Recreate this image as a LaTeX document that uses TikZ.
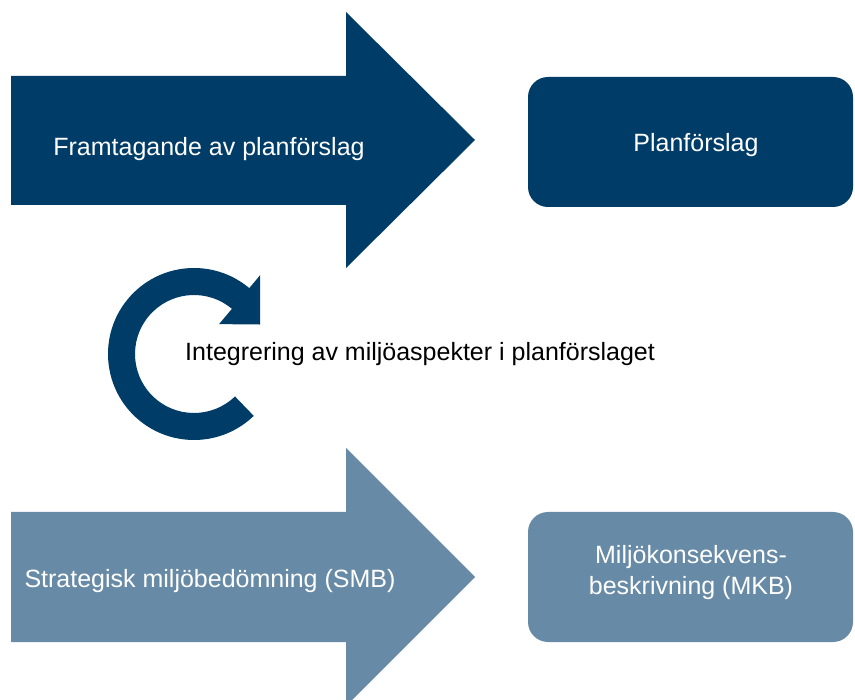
\documentclass[tikz,border=0pt]{standalone}
\usepackage{fontspec}
\setmainfont{Liberation Sans}
\definecolor{darkblue}{RGB}{0,60,104}
\definecolor{lightblue}{RGB}{103,138,166}
\begin{document}
\begin{tikzpicture}[x=1pt,y=-1pt,
  lbl/.style={font=\fontsize{25}{32}\selectfont, inner sep=0pt, anchor=base},
  wlbl/.style={lbl, text=white},
  rbox/.style={rounded corners=20pt}]
\useasboundingbox (0,0) rectangle (855,700);
\begin{scope}
\clip (0,0) rectangle (855,700);
% top arrow
\fill[darkblue] (11,76) -- (346,76) -- (346,12) -- (475,140) -- (346,268) -- (346,205) -- (11,205) -- cycle;
% bottom arrow
\fill[lightblue] (11,512) -- (346,512) -- (346,448) -- (475,577) -- (346,706) -- (346,642) -- (11,642) -- cycle;
\end{scope}
% boxes
\fill[darkblue, rbox] (528,77) rectangle (853,207);
\fill[lightblue, rbox] (528,512) rectangle (853,642);
% circular arrow
\begin{scope}[shift={(194,354)}]
\fill[darkblue] (-50:86) arc[start angle=-50, end angle=-314, radius=86]
  -- (-314:59) arc[start angle=-314, end angle=-50, radius=59]
  -- (-50:39) -- (-24:72.5) -- (-50:103) -- cycle;
\end{scope}
% labels
\node[wlbl] (t1) at (209,156) {Framtagande av planförslag};
\node[wlbl] (t2) at (210,587) {Strategisk miljöbedömning (SMB)};
\node[wlbl] (t3) at (696,152) {Planförslag};
\node[wlbl, align=center] (t4) at (691,595) {Miljökonsekvens-\\beskrivning (MKB)};
\node[lbl, anchor=base west] (t5) at (185,361) {Integrering av miljöaspekter i planförslaget};
\end{tikzpicture}
\end{document}
